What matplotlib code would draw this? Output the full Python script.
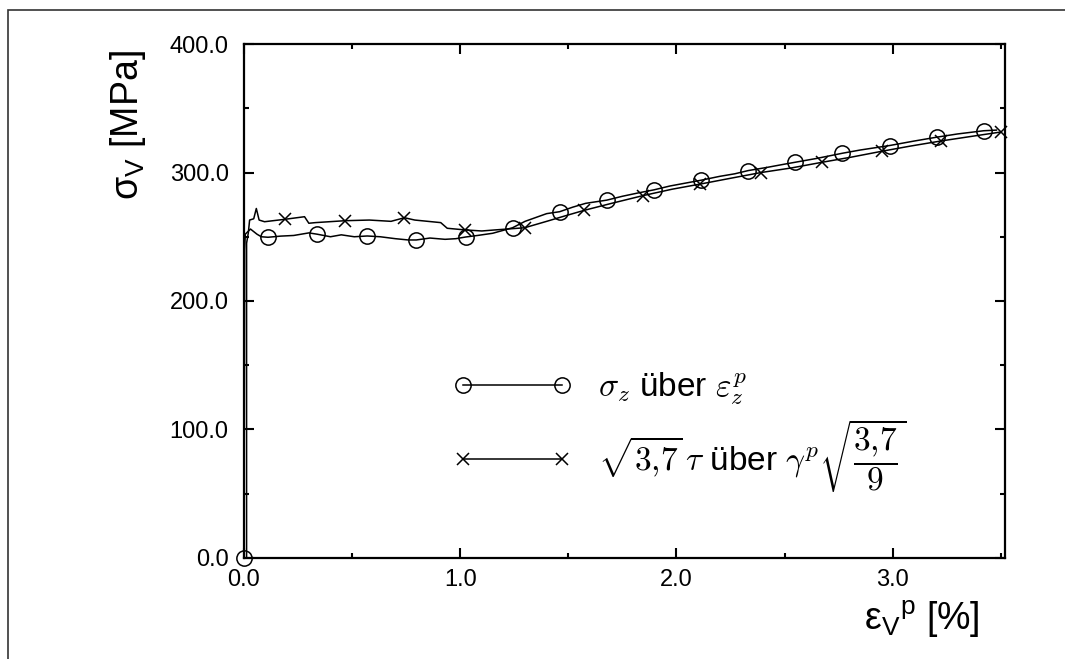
import matplotlib
matplotlib.use("Agg")
import matplotlib.pyplot as plt
from matplotlib.lines import Line2D
from matplotlib.patches import Rectangle
from matplotlib.ticker import MultipleLocator, FormatStrFormatter

plt.rcParams["font.family"] = ["Liberation Sans", "DejaVu Sans"]
plt.rcParams["mathtext.fontset"] = "cm"

# sigma_z over eps_z^p (circle curve)
sz_x = [0.0, 0.003, 0.006, 0.03, 0.06, 0.08, 0.111, 0.17, 0.23, 0.30, 0.338, 0.40, 0.45,
        0.51, 0.570, 0.63, 0.70, 0.76, 0.797, 0.86, 0.93, 0.98, 1.025, 1.08, 1.15,
        1.242, 1.30, 1.35, 1.40, 1.460, 1.52, 1.58, 1.678, 1.75, 1.82, 1.896, 1.97,
        2.05, 2.114, 2.20, 2.27, 2.332, 2.42, 2.50, 2.550, 2.65, 2.768, 2.85, 2.986,
        3.10, 3.204, 3.30, 3.421, 3.48]
sz_y = [0.0, 240.0, 252.0, 256.0, 252.0, 250.0, 249.6, 250.5, 251.0, 253.0, 252.0, 250.0,
        251.5, 250.0, 250.6, 250.0, 248.5, 247.5, 247.5, 249.0, 248.0, 248.5, 249.8,
        251.0, 252.7, 257.0, 262.0, 265.0, 268.0, 269.5, 273.0, 276.0, 278.5, 281.5,
        284.0, 286.5, 289.5, 292.0, 294.0, 297.0, 299.0, 301.5, 304.0, 306.5, 308.0,
        311.0, 315.0, 317.5, 321.0, 324.5, 327.5, 330.0, 332.5, 333.0]
sz_mark_x = [0.0, 0.111, 0.338, 0.570, 0.797, 1.025, 1.242, 1.460, 1.678, 1.896, 2.114,
             2.332, 2.550, 2.768, 2.986, 3.204, 3.421]
sz_mark_y = [0.0, 249.6, 252.0, 250.6, 247.5, 249.8, 257.0, 269.5, 278.5, 286.5, 294.0,
             301.5, 308.0, 315.0, 321.0, 327.5, 332.5]

# sqrt(3,7) tau over gamma^p sqrt(3,7/9) (cross curve)
tau_x = [0.012, 0.012, 0.02, 0.026, 0.045, 0.057, 0.07, 0.095, 0.19, 0.28, 0.30, 0.33,
         0.468, 0.58, 0.68, 0.742, 0.79, 0.91, 0.94, 1.024, 1.10, 1.16, 1.298, 1.40,
         1.48, 1.572, 1.70, 1.845, 1.98, 2.110, 2.25, 2.392, 2.53, 2.675, 2.81, 2.949,
         3.08, 3.222, 3.36, 3.50]
tau_y = [0.0, 245.0, 253.0, 263.0, 264.0, 272.0, 263.0, 261.7, 263.6, 265.6, 260.5, 261.0,
         262.5, 263.0, 262.0, 264.8, 263.0, 261.0, 256.6, 255.3, 254.5, 255.3, 257.0,
         262.0, 266.0, 270.5, 276.0, 282.0, 287.0, 291.0, 295.5, 300.0, 303.5, 308.0,
         312.0, 316.5, 320.5, 324.5, 328.0, 331.5]
tau_mark_x = [0.19, 0.468, 0.742, 1.024, 1.298, 1.572, 1.845, 2.110, 2.392, 2.675, 2.949,
              3.222, 3.50]
tau_mark_y = [263.6, 262.5, 264.8, 255.3, 257.0, 270.5, 282.0, 291.0, 300.0, 308.0, 316.5,
              324.5, 331.5]

labels = [r"$\sigma_z$ über $\varepsilon_z^p$",
          r"$\sqrt{3{,}7}\,\tau$ über $\gamma^p\sqrt{\dfrac{3{,}7}{9}}$"]

fig = plt.figure(figsize=(10.65, 6.59), dpi=100)
ax = fig.add_axes([0.2291, 0.1533, 0.7146, 0.7799])

# outer frame of the scanned figure
fig.patches.append(Rectangle((8 / 1065, -0.1), 1.2, 1.1 - 10 / 659, transform=fig.transFigure,
                             fill=False, edgecolor="#333333", linewidth=1.2))

ax.plot(sz_x, sz_y, color="black", lw=1.1)
ax.plot(sz_mark_x, sz_mark_y, ls="none", marker="o", ms=11, mfc="none", mec="black", mew=1.1,
        clip_on=False)
ax.plot(tau_x, tau_y, color="black", lw=1.1)
ax.plot(tau_mark_x, tau_mark_y, ls="none", marker="x", ms=9, mec="black", mew=1.1,
        clip_on=False)

ax.set_xlim(0, 3.52)
ax.set_ylim(0, 400)
ax.xaxis.set_major_locator(MultipleLocator(1.0))
ax.xaxis.set_minor_locator(MultipleLocator(0.5))
ax.yaxis.set_major_locator(MultipleLocator(100))
ax.yaxis.set_minor_locator(MultipleLocator(50))
ax.xaxis.set_major_formatter(FormatStrFormatter("%.1f"))
ax.yaxis.set_major_formatter(FormatStrFormatter("%.1f"))
ax.tick_params(which="both", direction="in", top=True, right=True, width=1.5, labelsize=17)
ax.tick_params(which="major", length=7)
ax.tick_params(which="minor", length=3.5)
ax.tick_params(axis="y", pad=11)
ax.tick_params(axis="x", pad=8)
for s in ax.spines.values():
    s.set_linewidth(1.6)

ax.set_ylabel(r"$\mathregular{σ_V}$ [MPa]", fontsize=27, loc="top", va="center")
ax.yaxis.set_label_coords(-0.152, 0.988)
ax.set_xlabel(r"$\mathregular{ε_V{}^p}$ [%]", fontsize=27, loc="right", va="center")
ax.xaxis.set_label_coords(0.967, -0.12)

handles = [Line2D([], [], color="black", lw=1.1, marker="o", ms=11, mfc="none", mew=1.1),
           Line2D([], [], color="black", lw=1.1, marker="x", ms=9, mew=1.1)]
ax.legend(handles, labels, loc="center left", bbox_to_anchor=(0.275, 0.245), frameon=False,
          numpoints=2, handlelength=3.55, handletextpad=0.8, labelspacing=0.3,
          borderpad=0, borderaxespad=0, fontsize=24)

fig.savefig("out.png", dpi=100)
